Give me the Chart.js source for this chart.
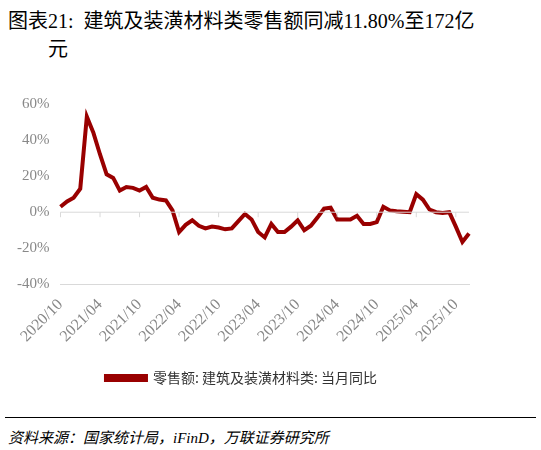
<!DOCTYPE html><html><head><meta charset="utf-8">
<script src="https://cdn.jsdelivr.net/npm/chart.js@4"></script>
<style>
body{margin:0;width:541px;height:450px;background:#fff;position:relative;font-family:"Liberation Serif","Noto Sans CJK SC",serif;}
#t{position:absolute;left:8px;top:7px;font-size:20px;line-height:28px;color:#000;font-family:"Liberation Serif","Noto Sans CJK SC";}
#c{position:absolute;left:0;top:92px;width:541px;height:303px;}
#hr{position:absolute;left:5px;right:5px;top:417px;border-top:1.5px solid #000;}
#s{position:absolute;left:8px;top:426px;font-size:15px;font-style:italic;color:#000;}
</style></head><body>
<div id="t">图表21:&nbsp; 建筑及装潢材料类零售额同减11.80%至172亿<br><span style="padding-left:40px">元</span></div>
<div id="c"><canvas id="cv"></canvas></div>
<div id="hr"></div>
<div id="s">资料来源：国家统计局，iFinD，万联证券研究所</div>
<script>
const seriesName="零售额: 建筑及装潢材料类: 当月同比";
const values=[3,6,8,13,53,44,32,21,19,12,14,13.5,12,14,8,7,6.5,1,-11,-7,-4.5,-7.5,-9,-8,-8.5,-9.5,-9,-5,-1,-4,-11,-14,-6.5,-11,-11,-8,-4.5,-10,-7.5,-3,2,2.5,-4,-4,-4,-2,-6.5,-6.5,-5.5,3,1,0.5,0.3,0,10,7,1.5,0,-0.5,0,-8,-16.5,-11.8];
const categories=[];
for(let i=0;i<values.length;i++){const m=(9+i)%12+1,y=2020+Math.floor((9+i)/12);categories.push(y+"/"+String(m).padStart(2,"0"));}
const tickEvery=6;
new Chart(document.getElementById("cv"),{type:"line",
data:{labels:categories,datasets:[{label:seriesName,data:values,borderColor:"#990000",backgroundColor:"#990000",borderWidth:4,pointRadius:0,tension:0}]},
options:{responsive:true,maintainAspectRatio:false,animation:false,
layout:{padding:{left:14,right:72,top:4,bottom:0}},
plugins:{legend:{position:"bottom",labels:{boxWidth:40,boxHeight:4,font:{size:14,family:"Noto Sans CJK SC"},color:"#333",padding:22}},tooltip:{enabled:false}},
scales:{x:{grid:{display:false,drawTicks:true},border:{color:"#d9d9d9"},ticks:{autoSkip:false,maxRotation:45,minRotation:45,color:"#888",font:{size:16,family:"Liberation Serif"},callback:(v,i)=>i%tickEvery===0?categories[i]:null}},
y:{min:-40,max:60,grid:{display:false},border:{display:false},ticks:{stepSize:20,color:"#888",font:{size:15,family:"Liberation Serif"},callback:v=>v+"%"}}}},
plugins:[{id:"zero",afterDraw(c){const x=c.scales.x,y=c.scales.y,g=c.ctx,p=y.getPixelForValue(0);g.save();g.strokeStyle="#d9d9d9";g.lineWidth=1;g.beginPath();g.moveTo(c.chartArea.left,p);g.lineTo(c.chartArea.right,p);for(let i=0;i<categories.length;i+=6){const px=x.getPixelForValue(i);g.moveTo(px,p);g.lineTo(px,p+5);}g.stroke();g.restore();}}]
});
</script></body></html>
